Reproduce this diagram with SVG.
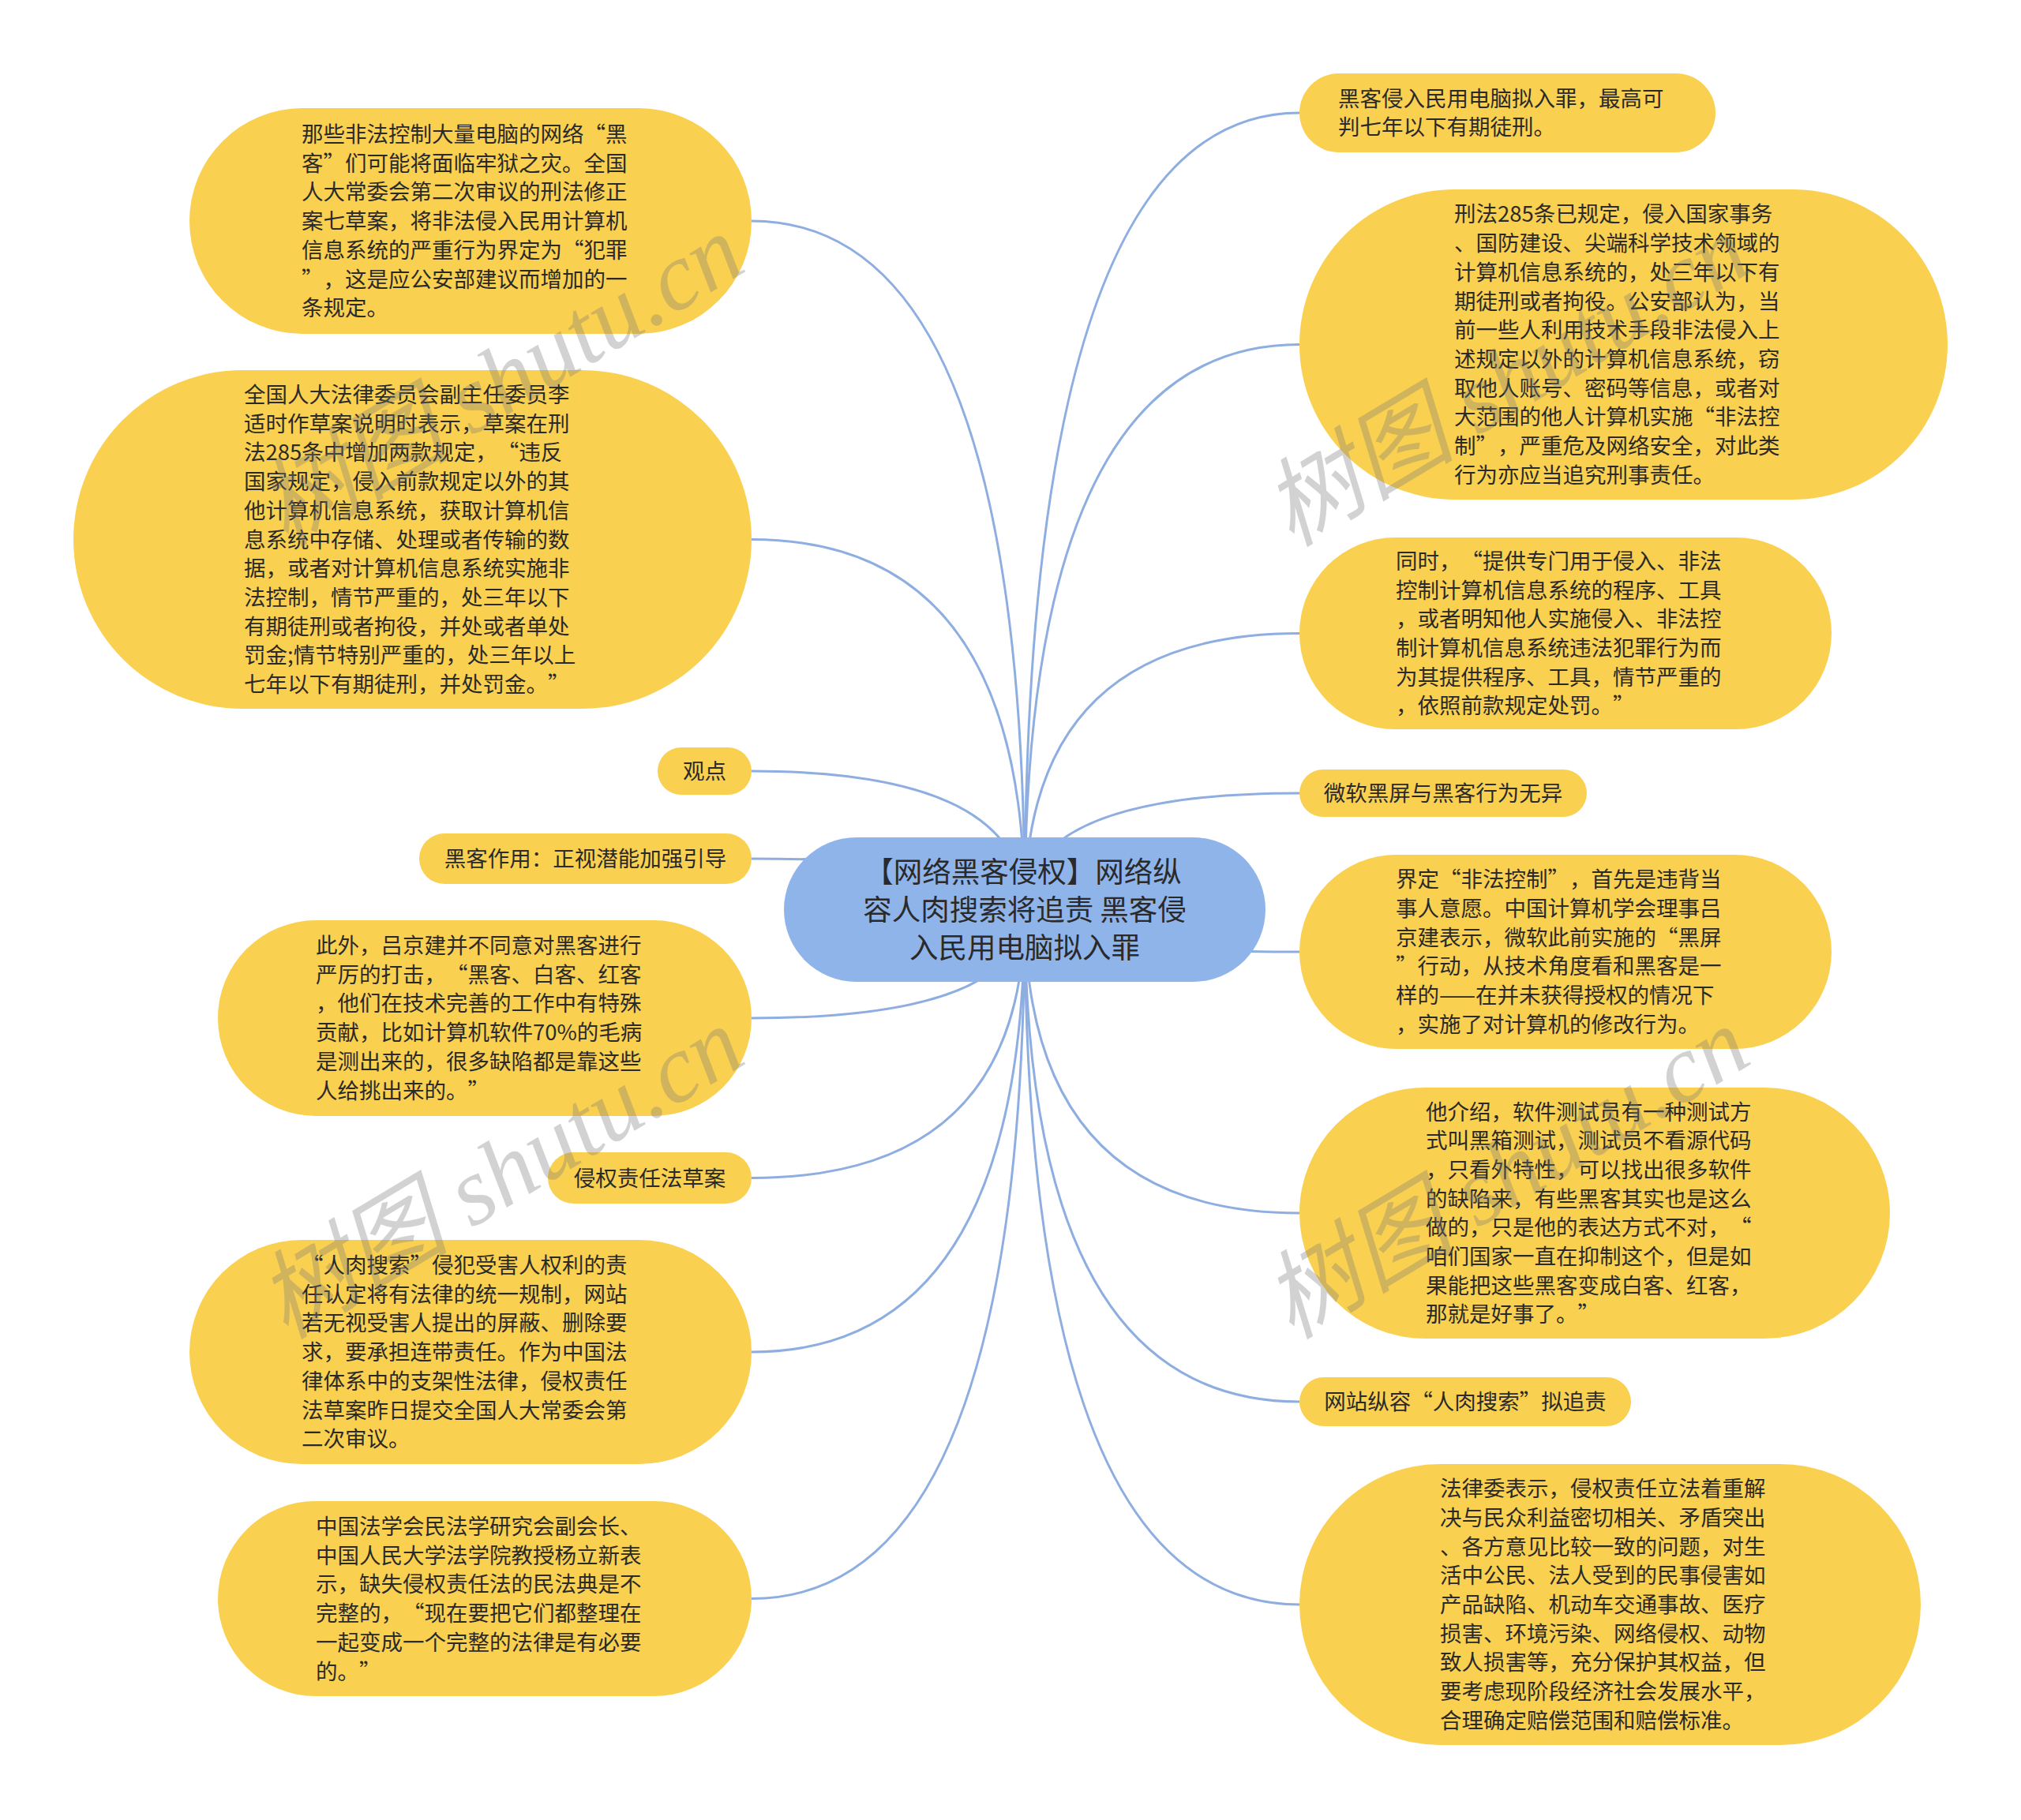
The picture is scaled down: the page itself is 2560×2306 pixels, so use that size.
<svg xmlns="http://www.w3.org/2000/svg" width="2560" height="2306" viewBox="0 0 2560 2306">
<style>
.bg{fill:#ffffff}
.leaf{fill:#fad050}
.root{fill:#8fb4ea}
text{text-spacing-trim:space-all}
.t{font-family:"Noto Sans CJK SC","Noto Sans",sans-serif;font-size:27.5px;fill:#2a2a2a}
.rt{font-family:"Noto Sans CJK SC","Noto Sans",sans-serif;font-size:36.5px;fill:#2a2a2a;text-anchor:middle}
.c{text-anchor:middle}
.edge{fill:none;stroke:#8eaee2;stroke-width:3}
.wm{font-family:"Liberation Serif","Noto Sans CJK SC",serif;font-style:italic;font-size:122px;fill:#7a7a7a;opacity:0.33}
</style>
<rect class="bg" x="0" y="0" width="2560" height="2306"/>
<g id="connectors">
<path class="edge" d="M1298 1152 Q1298 280 952 280"/>
<path class="edge" d="M1298 1152 Q1298 683.5 952 683.5"/>
<path class="edge" d="M1298 1152 Q1298 977 952 977"/>
<path class="edge" d="M1298 1152 Q1298 1088 952 1088"/>
<path class="edge" d="M1298 1152 Q1298 1290 952 1290"/>
<path class="edge" d="M1298 1152 Q1298 1492.5 952 1492.5"/>
<path class="edge" d="M1298 1152 Q1298 1713 952 1713"/>
<path class="edge" d="M1298 1152 Q1298 2025.5 952 2025.5"/>
<path class="edge" d="M1298 1152 Q1298 143 1646 143"/>
<path class="edge" d="M1298 1152 Q1298 436.5 1646 436.5"/>
<path class="edge" d="M1298 1152 Q1298 802.5 1646 802.5"/>
<path class="edge" d="M1298 1152 Q1298 1005 1646 1005"/>
<path class="edge" d="M1298 1152 Q1298 1206 1646 1206"/>
<path class="edge" d="M1298 1152 Q1298 1537 1646 1537"/>
<path class="edge" d="M1298 1152 Q1298 1776 1646 1776"/>
<path class="edge" d="M1298 1152 Q1298 2033 1646 2033"/>
</g>
<g id="root">
<rect class="root" x="993" y="1061" width="610" height="183" rx="91.5" ry="91.5"/>
<text class="rt"><tspan x="1296" y="1118">【网络黑客侵权】网络纵</tspan><tspan x="1298" y="1166">容人肉搜索将追责 黑客侵</tspan><tspan x="1298" y="1214">入民用电脑拟入罪</tspan></text>
</g>
<g id="n-l1">
<rect class="leaf" x="240" y="137" width="712" height="286" rx="143" ry="143"/>
<text class="t"><tspan x="382" y="180">那些非法控制大量电脑的网络“黑</tspan><tspan x="382" dy="36.7">客”们可能将面临牢狱之灾。全国</tspan><tspan x="382" dy="36.7">人大常委会第二次审议的刑法修正</tspan><tspan x="382" dy="36.7">案七草案，将非法侵入民用计算机</tspan><tspan x="382" dy="36.7">信息系统的严重行为界定为“犯罪</tspan><tspan x="382" dy="36.7">”，这是应公安部建议而增加的一</tspan><tspan x="382" dy="36.7">条规定。</tspan></text>
</g>
<g id="n-l2">
<rect class="leaf" x="93" y="469" width="859" height="429" rx="214.5" ry="214.5"/>
<text class="t"><tspan x="309" y="510">全国人大法律委员会副主任委员李</tspan><tspan x="309" dy="36.7">适时作草案说明时表示，草案在刑</tspan><tspan x="309" dy="36.7">法285条中增加两款规定，“违反</tspan><tspan x="309" dy="36.7">国家规定，侵入前款规定以外的其</tspan><tspan x="309" dy="36.7">他计算机信息系统，获取计算机信</tspan><tspan x="309" dy="36.7">息系统中存储、处理或者传输的数</tspan><tspan x="309" dy="36.7">据，或者对计算机信息系统实施非</tspan><tspan x="309" dy="36.7">法控制，情节严重的，处三年以下</tspan><tspan x="309" dy="36.7">有期徒刑或者拘役，并处或者单处</tspan><tspan x="309" dy="36.7">罚金;情节特别严重的，处三年以上</tspan><tspan x="309" dy="36.7">七年以下有期徒刑，并处罚金。”</tspan></text>
</g>
<g id="n-l3">
<rect class="leaf" x="833" y="947" width="119" height="60" rx="30" ry="30"/>
<text class="t c" x="892.5" y="987">观点</text>
</g>
<g id="n-l4">
<rect class="leaf" x="531" y="1056" width="421" height="64" rx="32" ry="32"/>
<text class="t c" x="741.5" y="1098">黑客作用：正视潜能加强引导</text>
</g>
<g id="n-l5">
<rect class="leaf" x="276" y="1166" width="676" height="248" rx="124" ry="124"/>
<text class="t"><tspan x="400" y="1208">此外，吕京建并不同意对黑客进行</tspan><tspan x="400" dy="36.7">严厉的打击，“黑客、白客、红客</tspan><tspan x="400" dy="36.7">，他们在技术完善的工作中有特殊</tspan><tspan x="400" dy="36.7">贡献，比如计算机软件70%的毛病</tspan><tspan x="400" dy="36.7">是测出来的，很多缺陷都是靠这些</tspan><tspan x="400" dy="36.7">人给挑出来的。”</tspan></text>
</g>
<g id="n-l6">
<rect class="leaf" x="694" y="1460" width="258" height="65" rx="32.5" ry="32.5"/>
<text class="t c" x="823" y="1502.5">侵权责任法草案</text>
</g>
<g id="n-l7">
<rect class="leaf" x="240" y="1571" width="712" height="284" rx="142" ry="142"/>
<text class="t"><tspan x="382" y="1613">“人肉搜索”侵犯受害人权利的责</tspan><tspan x="382" dy="36.7">任认定将有法律的统一规制，网站</tspan><tspan x="382" dy="36.7">若无视受害人提出的屏蔽、删除要</tspan><tspan x="382" dy="36.7">求，要承担连带责任。作为中国法</tspan><tspan x="382" dy="36.7">律体系中的支架性法律，侵权责任</tspan><tspan x="382" dy="36.7">法草案昨日提交全国人大常委会第</tspan><tspan x="382" dy="36.7">二次审议。</tspan></text>
</g>
<g id="n-l8">
<rect class="leaf" x="276" y="1902" width="676" height="247" rx="123.5" ry="123.5"/>
<text class="t"><tspan x="400" y="1944">中国法学会民法学研究会副会长、</tspan><tspan x="400" dy="36.7">中国人民大学法学院教授杨立新表</tspan><tspan x="400" dy="36.7">示，缺失侵权责任法的民法典是不</tspan><tspan x="400" dy="36.7">完整的，“现在要把它们都整理在</tspan><tspan x="400" dy="36.7">一起变成一个完整的法律是有必要</tspan><tspan x="400" dy="36.7">的。”</tspan></text>
</g>
<g id="n-r1">
<rect class="leaf" x="1646" y="93" width="527" height="100" rx="50" ry="50"/>
<text class="t"><tspan x="1695" y="134.6">黑客侵入民用电脑拟入罪，最高可</tspan><tspan x="1695" dy="36.7">判七年以下有期徒刑。</tspan></text>
</g>
<g id="n-r2">
<rect class="leaf" x="1646" y="240" width="821" height="393" rx="196.5" ry="196.5"/>
<text class="t"><tspan x="1842" y="281.4">刑法285条已规定，侵入国家事务</tspan><tspan x="1842" dy="36.7">、国防建设、尖端科学技术领域的</tspan><tspan x="1842" dy="36.7">计算机信息系统的，处三年以下有</tspan><tspan x="1842" dy="36.7">期徒刑或者拘役。公安部认为，当</tspan><tspan x="1842" dy="36.7">前一些人利用技术手段非法侵入上</tspan><tspan x="1842" dy="36.7">述规定以外的计算机信息系统，窃</tspan><tspan x="1842" dy="36.7">取他人账号、密码等信息，或者对</tspan><tspan x="1842" dy="36.7">大范围的他人计算机实施“非法控</tspan><tspan x="1842" dy="36.7">制”，严重危及网络安全，对此类</tspan><tspan x="1842" dy="36.7">行为亦应当追究刑事责任。</tspan></text>
</g>
<g id="n-r3">
<rect class="leaf" x="1646" y="681" width="674" height="243" rx="121.5" ry="121.5"/>
<text class="t"><tspan x="1768" y="720.8">同时，“提供专门用于侵入、非法</tspan><tspan x="1768" dy="36.7">控制计算机信息系统的程序、工具</tspan><tspan x="1768" dy="36.7">，或者明知他人实施侵入、非法控</tspan><tspan x="1768" dy="36.7">制计算机信息系统违法犯罪行为而</tspan><tspan x="1768" dy="36.7">为其提供程序、工具，情节严重的</tspan><tspan x="1768" dy="36.7">，依照前款规定处罚。”</tspan></text>
</g>
<g id="n-r4">
<rect class="leaf" x="1646" y="975" width="364" height="60" rx="30" ry="30"/>
<text class="t c" x="1828" y="1015">微软黑屏与黑客行为无异</text>
</g>
<g id="n-r5">
<rect class="leaf" x="1646" y="1083" width="674" height="246" rx="123" ry="123"/>
<text class="t"><tspan x="1768" y="1124.3">界定“非法控制”，首先是违背当</tspan><tspan x="1768" dy="36.7">事人意愿。中国计算机学会理事吕</tspan><tspan x="1768" dy="36.7">京建表示，微软此前实施的“黑屏</tspan><tspan x="1768" dy="36.7">”行动，从技术角度看和黑客是一</tspan><tspan x="1768" dy="36.7">样的——在并未获得授权的情况下</tspan><tspan x="1768" dy="36.7">，实施了对计算机的修改行为。</tspan></text>
</g>
<g id="n-r6">
<rect class="leaf" x="1646" y="1378" width="748" height="318" rx="159" ry="159"/>
<text class="t"><tspan x="1806" y="1418.5">他介绍，软件测试员有一种测试方</tspan><tspan x="1806" dy="36.7">式叫黑箱测试，测试员不看源代码</tspan><tspan x="1806" dy="36.7">，只看外特性，可以找出很多软件</tspan><tspan x="1806" dy="36.7">的缺陷来，有些黑客其实也是这么</tspan><tspan x="1806" dy="36.7">做的，只是他的表达方式不对，“</tspan><tspan x="1806" dy="36.7">咱们国家一直在抑制这个，但是如</tspan><tspan x="1806" dy="36.7">果能把这些黑客变成白客、红客，</tspan><tspan x="1806" dy="36.7">那就是好事了。”</tspan></text>
</g>
<g id="n-r7">
<rect class="leaf" x="1646" y="1745" width="420" height="62" rx="31" ry="31"/>
<text class="t c" x="1856" y="1786">网站纵容“人肉搜索”拟追责</text>
</g>
<g id="n-r8">
<rect class="leaf" x="1646" y="1855" width="787" height="356" rx="178" ry="178"/>
<text class="t"><tspan x="1824" y="1896.2">法律委表示，侵权责任立法着重解</tspan><tspan x="1824" dy="36.7">决与民众利益密切相关、矛盾突出</tspan><tspan x="1824" dy="36.7">、各方意见比较一致的问题，对生</tspan><tspan x="1824" dy="36.7">活中公民、法人受到的民事侵害如</tspan><tspan x="1824" dy="36.7">产品缺陷、机动车交通事故、医疗</tspan><tspan x="1824" dy="36.7">损害、环境污染、网络侵权、动物</tspan><tspan x="1824" dy="36.7">致人损害等，充分保护其权益，但</tspan><tspan x="1824" dy="36.7">要考虑现阶段经济社会发展水平，</tspan><tspan x="1824" dy="36.7">合理确定赔偿范围和赔偿标准。</tspan></text>
</g>
<g id="watermark">
<text class="wm" transform="translate(362 694) rotate(-31)">树图 shutu.cn</text>
<text class="wm" transform="translate(1636 694) rotate(-31)">树图 shutu.cn</text>
<text class="wm" transform="translate(362 1698) rotate(-31)">树图 shutu.cn</text>
<text class="wm" transform="translate(1636 1698) rotate(-31)">树图 shutu.cn</text>
</g>
</svg>
